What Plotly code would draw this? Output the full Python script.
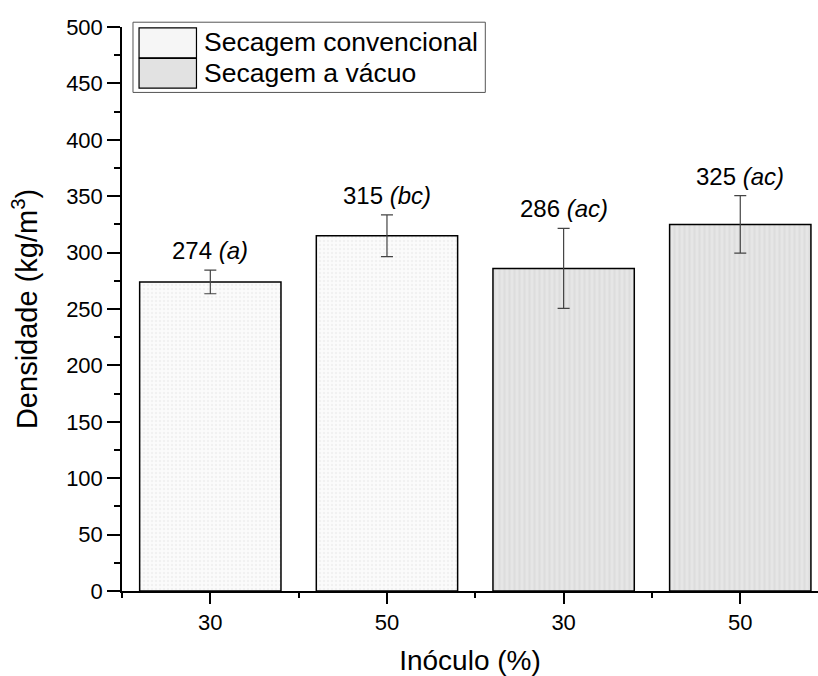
import plotly.graph_objects as go

# Data
tick_labels = ["30", "50", "30", "50"]
conv_x = [0, 1]
conv_vals = [274, 315]
conv_err = [10.5, 18.5]
conv_letters = ["a", "bc"]
vac_x = [2, 3]
vac_vals = [286, 325]
vac_err = [35.5, 25.5]
vac_letters = ["ac", "ac"]
series_names = ["Secagem convencional", "Secagem a vácuo"]

FONT = "Liberation Sans, Arial, sans-serif"
conv_color = "#f6f6f6"
vac_color = "#e2e2e2"

fig = go.Figure()
fig.add_trace(go.Bar(
    x=conv_x, y=conv_vals, width=0.8, name=series_names[0],
    marker=dict(color=conv_color, line=dict(color="black", width=1.5),
                pattern=dict(shape=".", fgcolor="#e6e6e6", bgcolor="#fbfbfb", size=4, solidity=0.3)),
    error_y=dict(type="data", array=conv_err, color="#444444", thickness=1.2, width=6),
    showlegend=False,
))
fig.add_trace(go.Bar(
    x=vac_x, y=vac_vals, width=0.8, name=series_names[1],
    marker=dict(color=vac_color, line=dict(color="black", width=1.5),
                pattern=dict(shape="|", fgcolor="#d4d4d4", bgcolor="#e6e6e6", size=5, solidity=0.4)),
    error_y=dict(type="data", array=vac_err, color="#444444", thickness=1.2, width=6),
    showlegend=False,
))

annotations = []
for xs, vals, errs, lets in [(conv_x, conv_vals, conv_err, conv_letters),
                             (vac_x, vac_vals, vac_err, vac_letters)]:
    for x, v, e, l in zip(xs, vals, errs, lets):
        annotations.append(dict(
            x=x, y=v + e, xref="x", yref="y", text=f"{v} <i>({l})</i>",
            showarrow=False, yanchor="bottom", yshift=4,
            font=dict(family=FONT, size=24, color="black")))

# Manual legend (box + swatches + labels)
shapes = [
    dict(type="rect", xref="paper", yref="paper", x0=0.0158, x1=0.522, y0=0.884, y1=1.0085,
         line=dict(color="#555555", width=1), fillcolor="white", layer="above"),
    dict(type="rect", xref="paper", yref="paper", x0=0.0245, x1=0.107, y0=0.9455, y1=0.9985,
         line=dict(color="black", width=1.2), fillcolor=conv_color, layer="above"),
    dict(type="rect", xref="paper", yref="paper", x0=0.0245, x1=0.107, y0=0.8915, y1=0.9445,
         line=dict(color="black", width=1.2), fillcolor=vac_color, layer="above"),
]
annotations += [
    dict(x=0.115, y=0.973, xref="paper", yref="paper", text=series_names[0], showarrow=False,
         xanchor="left", yanchor="middle", font=dict(family=FONT, size=26.5, color="black")),
    dict(x=0.115, y=0.918, xref="paper", yref="paper", text=series_names[1], showarrow=False,
         xanchor="left", yanchor="middle", font=dict(family=FONT, size=26.5, color="black")),
]

fig.update_layout(
    width=818, height=676,
    margin=dict(l=122, r=0, t=27, b=85),
    plot_bgcolor="white", paper_bgcolor="white",
    barmode="overlay",
    font=dict(family=FONT, size=22, color="black"),
    annotations=annotations,
    shapes=shapes,
)
fig.update_xaxes(
    range=[-0.5, 3.44], tickvals=[0, 1, 2, 3], ticktext=tick_labels,
    showline=True, linecolor="black", linewidth=1.5, showgrid=False, zeroline=False,
    ticks="outside", ticklen=11, tickwidth=1.5, tickcolor="black",
    minor=dict(tickvals=[-0.5, 0.5, 1.5, 2.5], ticks="outside", ticklen=5, tickwidth=1.5, tickcolor="black"),
    tickfont=dict(family=FONT, size=22),
    title=dict(text="Inóculo (%)", font=dict(family=FONT, size=28), standoff=17),
)
fig.update_yaxes(
    range=[0, 500], dtick=50,
    showline=True, linecolor="black", linewidth=1.5, showgrid=False, zeroline=False,
    ticks="outside", ticklen=13, tickwidth=1.5, tickcolor="black",
    minor=dict(dtick=25, ticks="outside", ticklen=6, tickwidth=1.5, tickcolor="black"),
    tickfont=dict(family=FONT, size=22),
    title=dict(text="Densidade (kg/m<sup>3</sup>)", font=dict(family=FONT, size=29), standoff=20),
)

fig.write_html("out.html")
